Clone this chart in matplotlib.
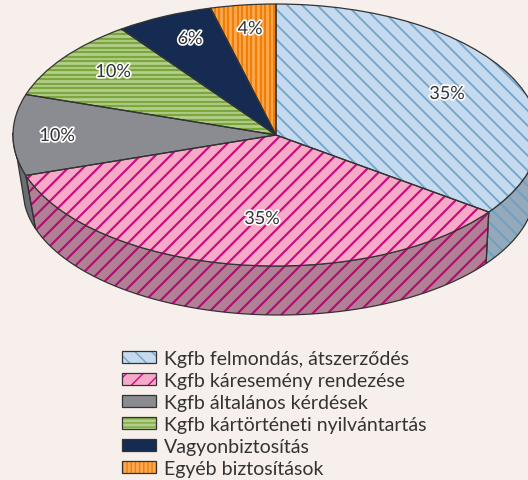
import numpy as np
import matplotlib
matplotlib.use("Agg")
import matplotlib.pyplot as plt
from matplotlib.patches import Patch, Polygon
from matplotlib.collections import LineCollection
from matplotlib.legend_handler import HandlerTuple
import matplotlib.patheffects as pe

categories = ["Kgfb felmondás, átszerződés", "Kgfb káresemény rendezése", "Kgfb általános kérdések",
              "Kgfb kártörténeti nyilvántartás", "Vagyonbiztosítás", "Egyéb biztosítások"]
values = [35, 35, 10, 10, 6, 4]
pct_labels = ["35%", "35%", "10%", "10%", "6%", "4%"]

fills = ["#C5DAEE", "#F6AAC7", "#8A8C92", "#B3CF8C", "#162B52", "#FBA84E"]
hatch_colors = ["#74A6CC", "#CC0A83", "#8A8C92", "#7CA73E", "#162B52", "#F07F09"]
hatches = ["\\\\", "//", None, "----", None, "||||"]
stripe_style = [("back", 15, 1.35), ("fwd", 15, 1.55), None, ("h", 4.5, 1.65), None, ("v", 4.6, 1.6)]
wall_fills = ["#94A9BA", "#B28094", "#6C6D72"]
wall_hatch = ["#6E9FC4", "#AE0F72", "#6C6D72"]
BG = "#F6EFEC"
INK = "#333333"

W, H = 528, 481
CX, CY, RX, RY = 276, 136, 263, 131   # top ellipse in pixels
LOW_DX, LOW_DY, LOW_RX, LOW_RY = 3, 55, 256, 125  # lower rim relative to the top ellipse


def px(x, y):
    return (np.asarray(x, float) - CX) / RX, (CY - np.asarray(y, float)) / RY


def stripes(ax, clip, style, color, zorder):
    """Pattern lines, laid out in pixel space and clipped to a patch."""
    if style is None:
        return
    kind, period, lw = style
    segs = []
    offs = np.arange(-H - W, W + H, period)
    for o in offs:
        if kind == "fwd":
            a, b = (o, H), (o + H, 0)
        elif kind == "back":
            a, b = (o, 0), (o + H, H)
        elif kind == "h":
            a, b = (0, o), (W, o)
        else:
            a, b = (o, 0), (o, H)
        xa, ya = px(*a)
        xb, yb = px(*b)
        segs.append([(xa, ya), (xb, yb)])
    lc = LineCollection(segs, colors=color, linewidths=lw, zorder=zorder, capstyle="butt")
    ax.add_collection(lc, autolim=False)
    lc.set_clip_path(clip)


fig = plt.figure(figsize=(W / 100, H / 100), dpi=100, facecolor=BG)
ax = fig.add_axes([0, 0, 1, 1])
ax.set_facecolor(BG)

edges = np.cumsum([0] + values) / sum(values) * 360
spans = [(95, edges[1]), (edges[1], edges[2]), (edges[2], 271)]


def rim_top(a):
    a = np.radians(a)
    return np.sin(a), np.cos(a)


def rim_low(a):
    a = np.radians(a)
    return ((LOW_DX + LOW_RX * np.sin(a)) / RX, (LOW_RY * np.cos(a) - LOW_DY) / RY)


for i, (a0, a1) in enumerate(spans):
    t = np.linspace(a0, a1, 60)
    xt, yt = rim_top(t)
    if i == 0:
        b = np.linspace(a0 + 7, a1, 60)
    elif i == 2:
        b = np.linspace(a0, 263, 60)
    else:
        b = t
    xb, yb = rim_low(b)
    pts = np.column_stack([np.r_[xt, xb[::-1]], np.r_[yt, yb[::-1]]])
    w = Polygon(pts, closed=True, facecolor=wall_fills[i], edgecolor="none", zorder=1)
    ax.add_patch(w)
    stripes(ax, w, stripe_style[i], wall_hatch[i], 1.2)
    ax.add_patch(Polygon(pts, closed=True, facecolor="none", edgecolor=INK, linewidth=0.9, zorder=1.5))

# top face: fill layer, pattern lines, then outlines
wedges, _ = ax.pie(values, colors=fills, startangle=90, counterclock=False, radius=1,
                   wedgeprops=dict(linewidth=0, zorder=2))
for w, st, c in zip(wedges, stripe_style, hatch_colors):
    stripes(ax, w, st, c, 2.5)
ax.pie(values, startangle=90, counterclock=False, radius=1,
       wedgeprops=dict(facecolor="none", edgecolor=INK, linewidth=0.9, zorder=3))

ax.set_aspect("auto")
ax.set_xlim(px(0, 0)[0], px(W, 0)[0])
ax.set_ylim(px(0, H)[1], px(0, 0)[1])
ax.axis("off")

label_px = [(447, 95), (262, 220), (57, 137), (113, 73), (190, 40), (250, 30)]
for s, (x, y) in zip(pct_labels, label_px):
    lx, ly = px(x, y)
    ax.text(lx, ly, s, ha="center", va="center", family="Lato", fontsize=13, color=INK, zorder=5,
            path_effects=[pe.withStroke(linewidth=2.4, foreground="white")])

handles = []
for c, hc, h in zip(fills, hatch_colors, hatches):
    p = Patch(facecolor=c, edgecolor=hc, hatch=h, linewidth=0)
    frame = Patch(facecolor="none", edgecolor=INK, linewidth=0.9)
    handles.append((p, frame))
leg = fig.legend(handles, categories, loc="upper left", bbox_to_anchor=(122 / W, 1 - 350.5 / H),
                 frameon=False, prop=dict(family="Lato", size=14),
                 handler_map={tuple: HandlerTuple(ndivide=1, pad=0)},
                 handlelength=1.76, handleheight=0.57, handletextpad=0.41, labelspacing=0.265,
                 labelcolor=INK, borderpad=0, borderaxespad=0)

fig.savefig("out.png", dpi=100, facecolor=BG)
